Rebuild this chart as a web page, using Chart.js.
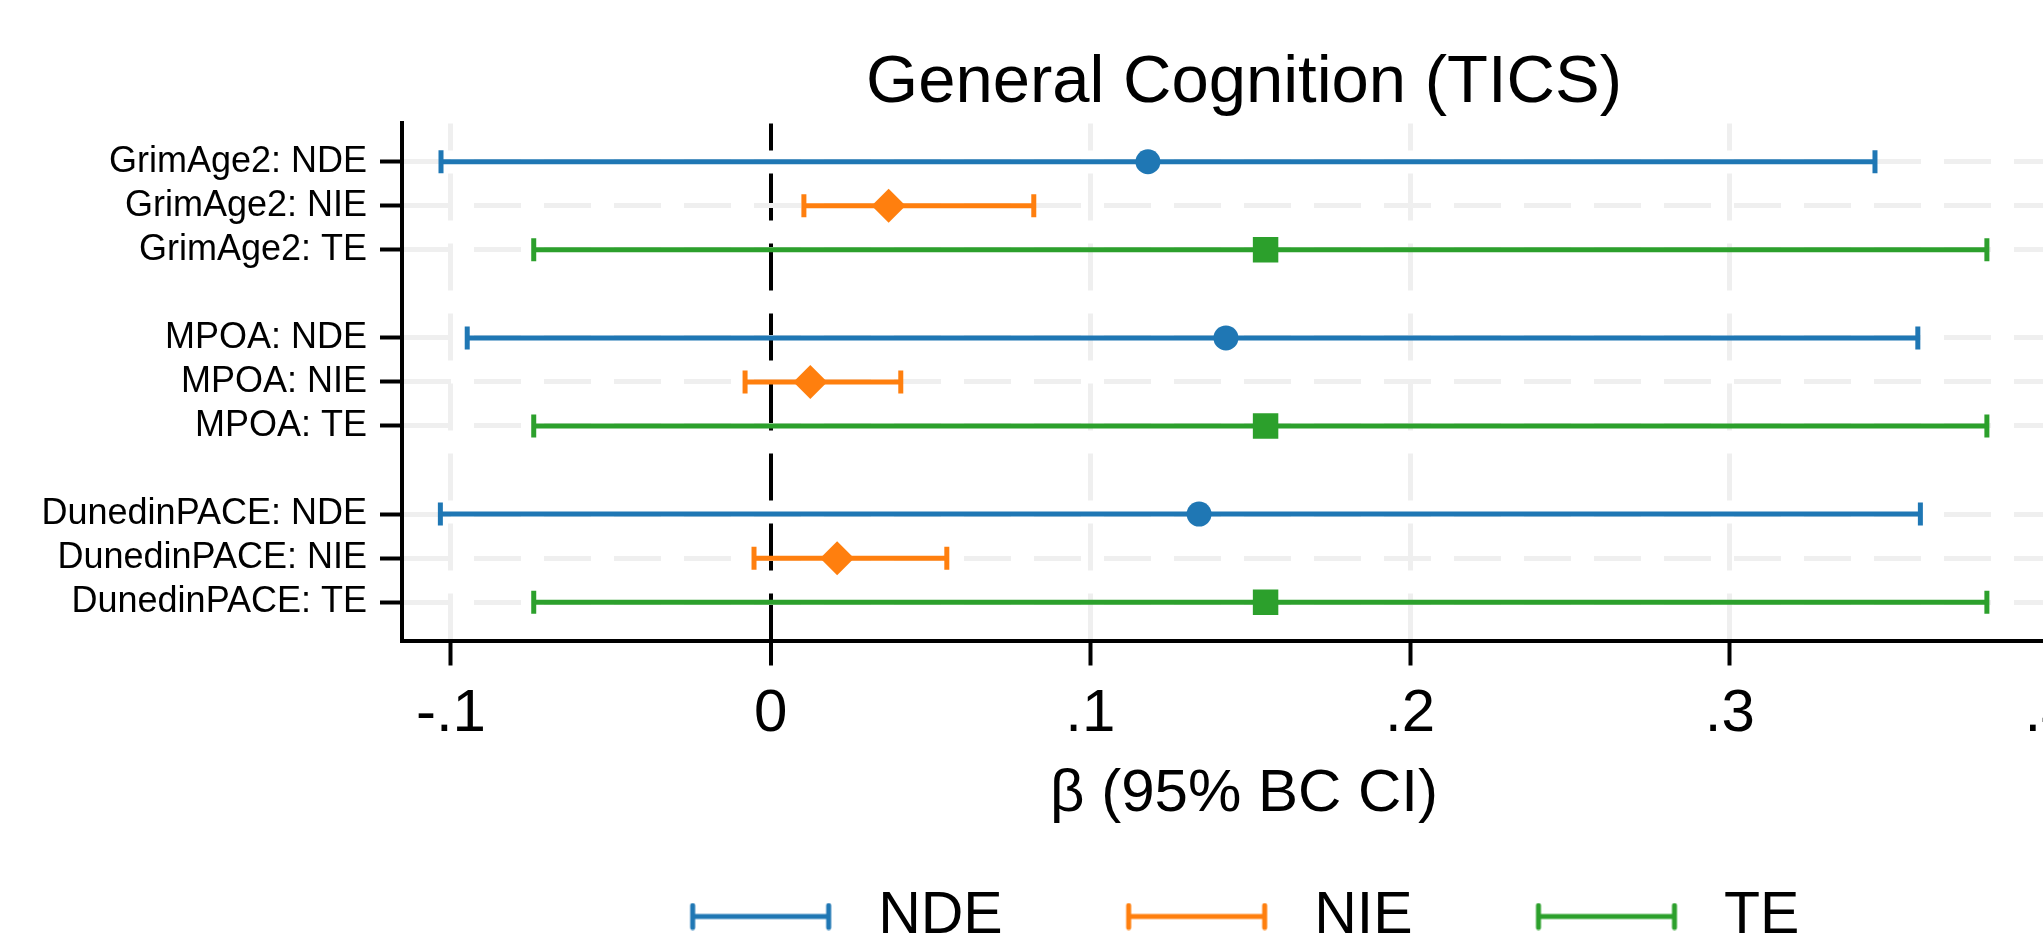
<!DOCTYPE html>
<html>
<head>
<meta charset="utf-8">
<title>General Cognition (TICS)</title>
<script src="https://cdn.jsdelivr.net/npm/chart.js@4.4.1/dist/chart.umd.min.js"></script>
<style>
  html, body { margin: 0; padding: 0; background: #fff; overflow: hidden; }
  #wrap { width: 2043px; height: 947px; overflow: hidden; }
</style>
</head>
<body>
<div id="wrap">
  <canvas id="forest" width="2104" height="956"></canvas>
</div>
<script>
// rows of the forest plot, top to bottom (blank rows between the clocks)
const rowLabels = ['GrimAge2: NDE', 'GrimAge2: NIE', 'GrimAge2: TE',
                   'MPOA: NDE', 'MPOA: NIE', 'MPOA: TE',
                   'DunedinPACE: NDE', 'DunedinPACE: NIE', 'DunedinPACE: TE'];
const rowPos = [1, 2, 3, 5, 6, 7, 9, 10, 11];
const effect = ['NDE', 'NIE', 'TE', 'NDE', 'NIE', 'TE', 'NDE', 'NIE', 'TE'];

// beta and 95% BC CI
const beta  = [0.118, 0.0369, 0.1548, 0.1424, 0.0124, 0.1548, 0.134, 0.0208, 0.1548];
const ciLow = [-0.1031, 0.0104, -0.0741, -0.0949, -0.0080, -0.0741, -0.1033, -0.0052, -0.0741];
const ciHigh = [0.3454, 0.0823, 0.3804, 0.3588, 0.0407, 0.3804, 0.3596, 0.0551, 0.3804];

const xTicks = [-0.1, 0, 0.1, 0.2, 0.3, 0.4];

const effects = ['NDE', 'NIE', 'TE'];
const colors = {NDE: '#1f77b4', NIE: '#ff7f0e', TE: '#2ca02c'};
const markers = {NDE: 'circle', NIE: 'rectRot', TE: 'rect'};
const markerSize = {NDE: 12.5, NIE: 17, TE: 18};

const gridGrey = '#efefef';

Chart.defaults.font.family = "'Liberation Sans', Arial, sans-serif";
Chart.defaults.color = '#000';

function fmtTick(v) {
    if (Math.abs(v) < 1e-9) return '0';
    return v.toFixed(1).replace('0.', '.');
}

// little |----| glyph for the legend
function legendGlyph(color) {
    const c = document.createElement('canvas');
    c.width = 160;
    c.height = 28;
    const g = c.getContext('2d');
    g.strokeStyle = color;
    g.lineWidth = 5;
    g.lineCap = 'round';
    g.beginPath();
    g.moveTo(4, 14); g.lineTo(140, 14);
    g.moveTo(4, 3); g.lineTo(4, 25);
    g.moveTo(140, 3); g.lineTo(140, 25);
    g.stroke();
    return c;
}

function buildDatasets() {
    const sets = [];
    effects.forEach(e => {
        const pts = [];
        effect.forEach((k, i) => { if (k === e) pts.push({x: beta[i], y: rowPos[i]}); });
        sets.push({
            label: e,
            data: pts,
            pointStyle: markers[e],
            pointRadius: markerSize[e],
            pointBackgroundColor: colors[e],
            pointBorderWidth: 0,
            showLine: false,
            order: 1
        });
    });
    effect.forEach((k, i) => {
        sets.push({
            label: rowLabels[i],
            data: [{x: ciLow[i], y: rowPos[i]}, {x: ciHigh[i], y: rowPos[i]}],
            showLine: true,
            borderColor: colors[k],
            borderWidth: 5,
            pointStyle: 'line',
            pointRotation: 90,
            pointRadius: 11.5,
            pointBorderWidth: 5,
            pointBorderColor: colors[k],
            order: 2
        });
    });
    return sets;
}

const config = {
    type: 'scatter',
    data: { datasets: buildDatasets() },
    options: {
        responsive: false,
        animation: false,
        layout: { padding: {left: 0, right: 4, top: 0, bottom: 0} },
        scales: {
            x: {
                type: 'linear',
                position: 'bottom',
                min: -0.1153,
                max: 0.4114,
                afterBuildTicks: s => { s.ticks = xTicks.map(v => ({value: v})); },
                ticks: {
                    font: {size: 60},
                    color: '#000',
                    padding: 13,
                    autoSkip: false,
                    maxRotation: 0,
                    callback: v => fmtTick(v)
                },
                grid: {
                    color: c => (c.tick && Math.abs(c.tick.value) < 1e-9) ? '#000' : gridGrey,
                    lineWidth: c => (c.tick && Math.abs(c.tick.value) < 1e-9) ? 4 : 5,
                    tickLength: 25,
                    tickColor: '#000',
                    tickWidth: 4
                },
                border: { display: true, color: '#000', width: 4, dash: [47, 23], dashOffset: 20 },
                title: {
                    display: true,
                    text: 'β (95% BC CI)',
                    font: {size: 60, lineHeight: 1.0},
                    color: '#000',
                    padding: {top: 1, bottom: 22.5}
                }
            },
            y: {
                type: 'linear',
                reverse: true,
                min: 0.13,
                max: 11.87,
                afterBuildTicks: s => { s.ticks = rowPos.map(v => ({value: v})); },
                afterFit: s => { s.width = 402; },
                ticks: {
                    font: {size: 36},
                    color: '#000',
                    padding: 13,
                    autoSkip: false,
                    callback: v => rowLabels[rowPos.indexOf(v)]
                },
                grid: {
                    color: gridGrey,
                    lineWidth: 5,
                    tickLength: 22,
                    tickColor: '#000',
                    tickWidth: 4
                },
                border: { display: true, color: '#000', width: 4, dash: [47, 23], dashOffset: 0 }
            }
        },
        plugins: {
            title: {
                display: true,
                text: 'General Cognition (TICS)',
                fullSize: false,
                color: '#000',
                font: {size: 67, weight: 'normal', lineHeight: 1.1},
                padding: {top: 47, bottom: 2.7}
            },
            legend: {
                position: 'bottom',
                fullSize: false,
                labels: {
                    usePointStyle: true,
                    pointStyleWidth: 160,
                    padding: 40,
                    color: '#000',
                    font: {size: 59},
                    generateLabels: () => effects.map((e, i) => ({
                        text: i < effects.length - 1 ? e + '     ' : e,
                        pointStyle: legendGlyph(colors[e]),
                        fillStyle: colors[e],
                        strokeStyle: colors[e],
                        lineWidth: 0,
                        hidden: false,
                        datasetIndex: i
                    }))
                }
            },
            tooltip: { enabled: false }
        }
    }
};

const chart = new Chart('forest', config);
</script>
</body>
</html>
